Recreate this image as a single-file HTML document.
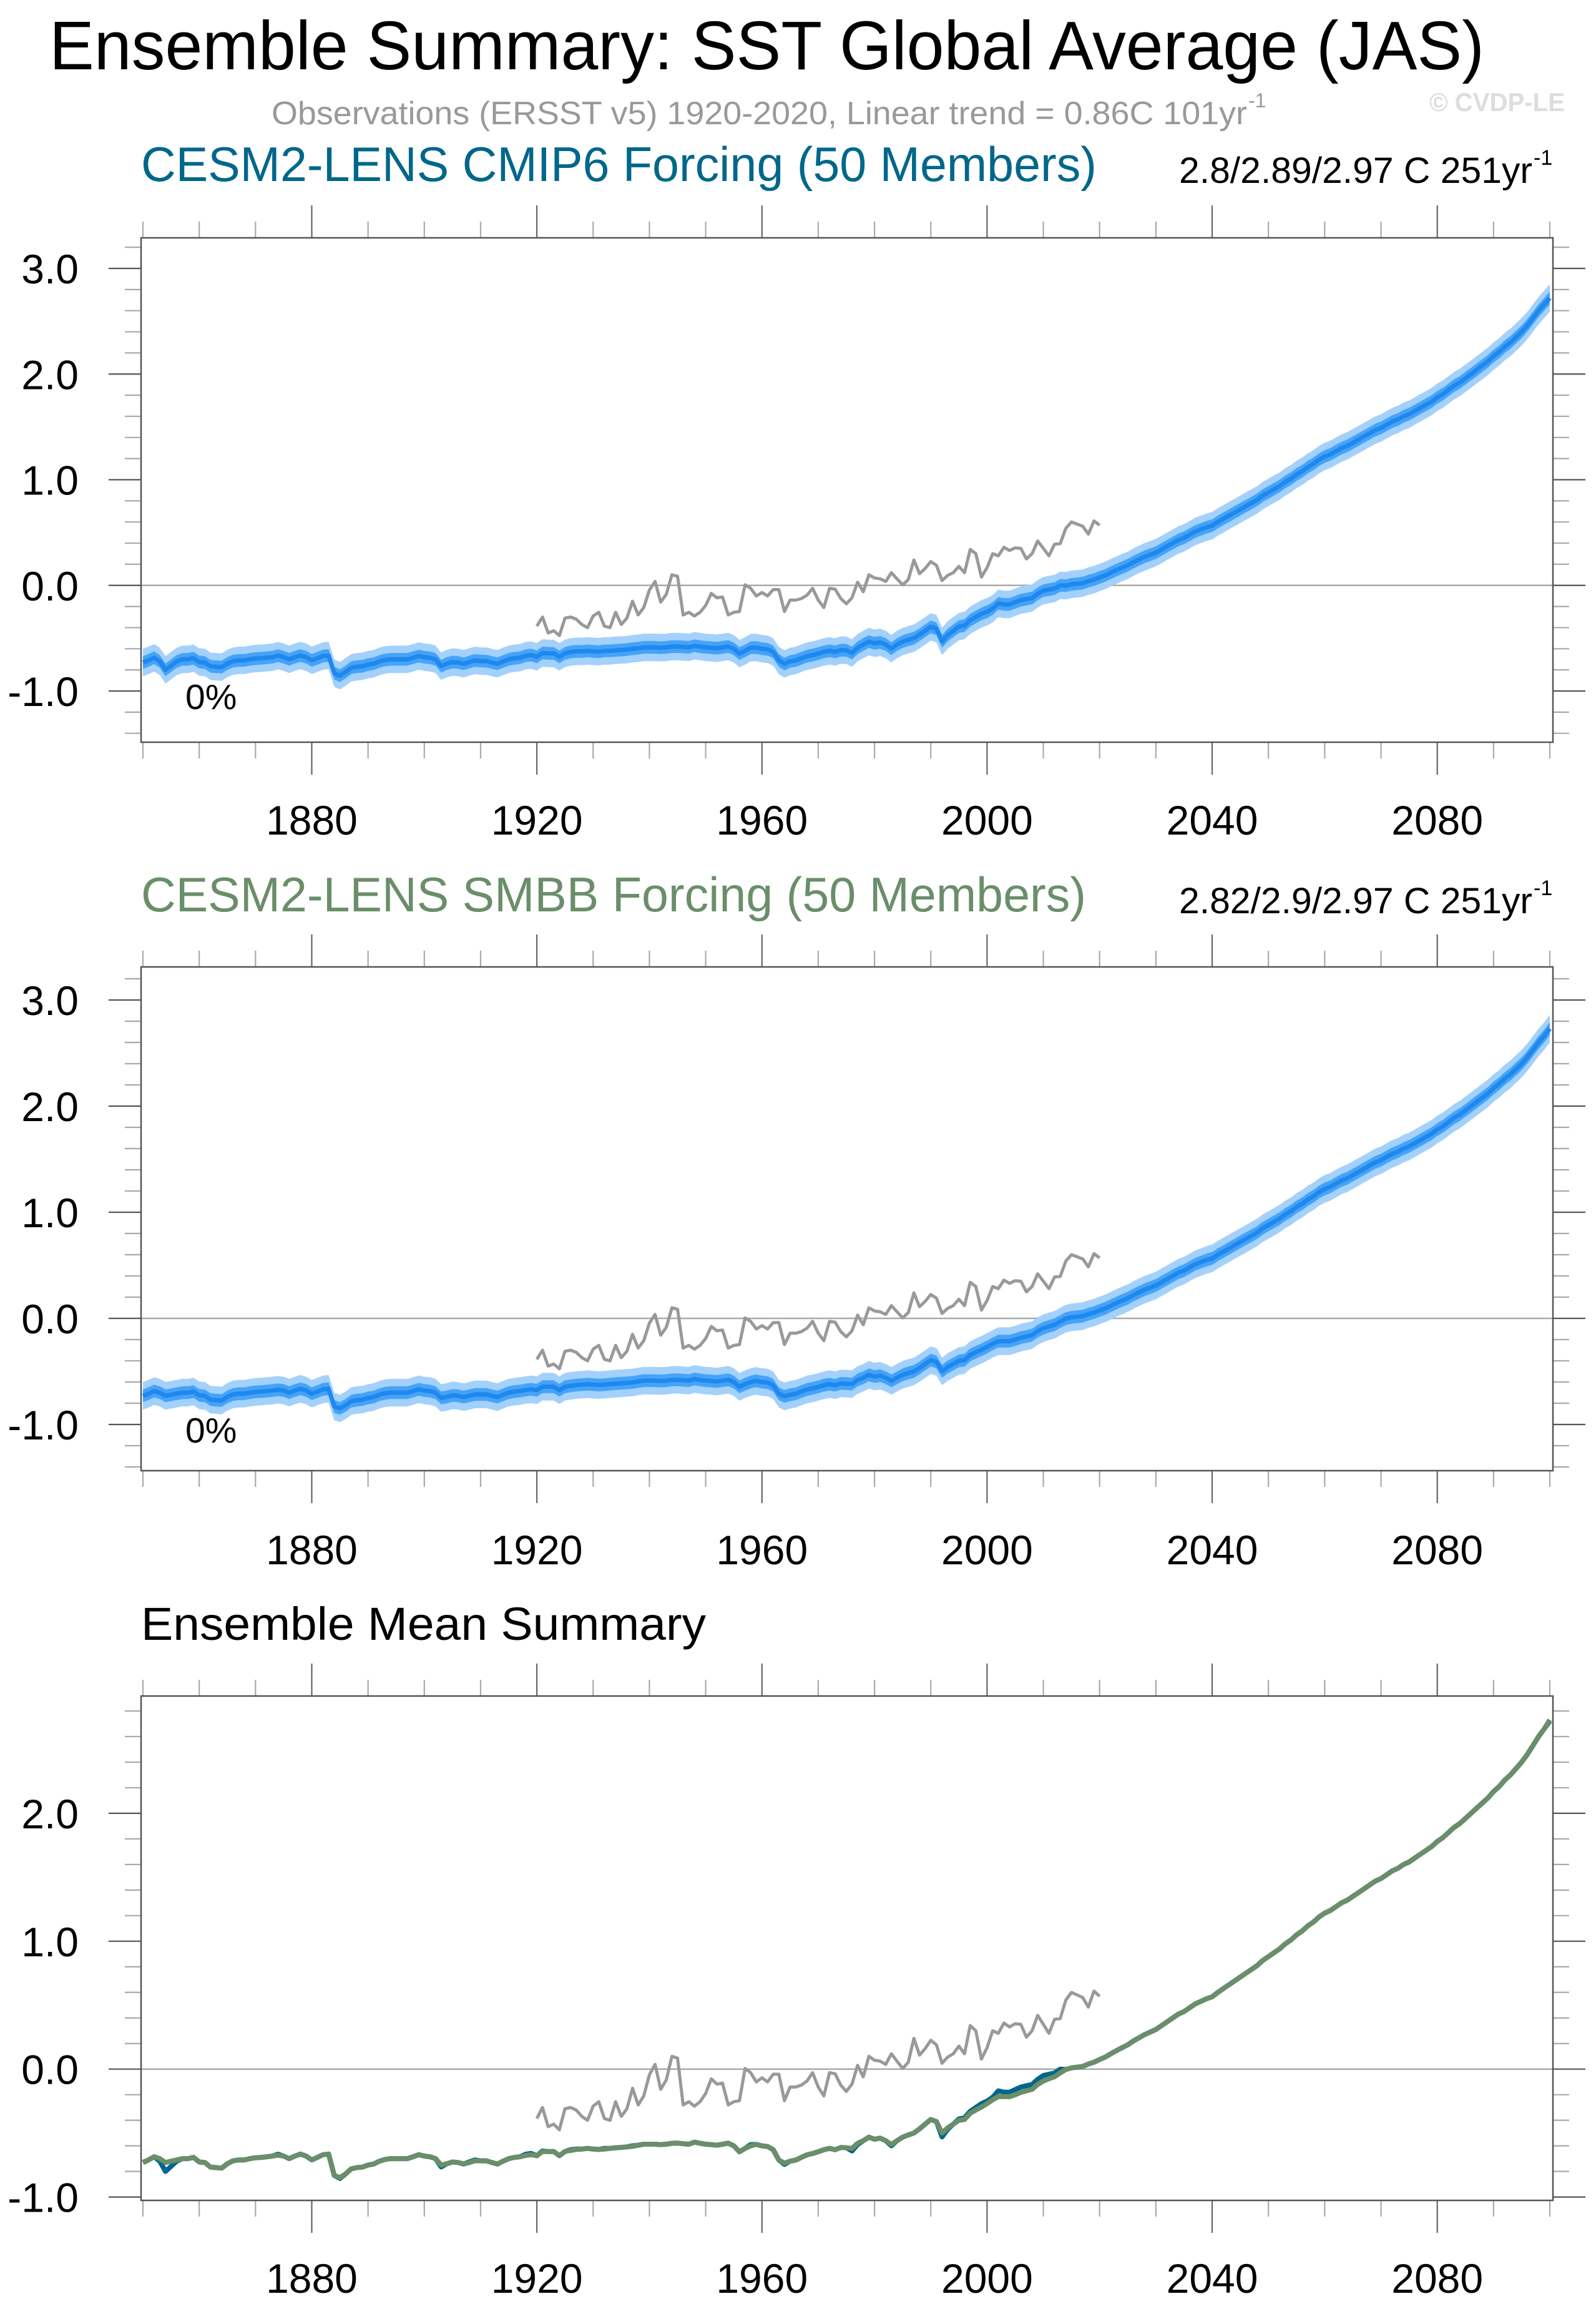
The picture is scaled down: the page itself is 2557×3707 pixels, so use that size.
<!DOCTYPE html>
<html><head><meta charset="utf-8"><style>
html,body{margin:0;padding:0;background:#fff;}
svg{display:block;font-family:"Liberation Sans",Arial,sans-serif;}
</style></head><body>
<svg id="fig" xmlns="http://www.w3.org/2000/svg" width="2557" height="3707" viewBox="0 0 2557 3707">
<rect width="2557" height="3707" fill="#fff"/>
<text x="79" y="111" font-size="110" textLength="2299" lengthAdjust="spacingAndGlyphs" fill="#000">Ensemble Summary: SST Global Average (JAS)</text>
<text x="435" y="199" font-size="52" textLength="1563" lengthAdjust="spacingAndGlyphs" fill="#999">Observations (ERSST v5) 1920-2020, Linear trend = 0.86C 101yr</text>
<text x="2000" y="172" font-size="32" fill="#999">-1</text>
<text x="2290" y="178" font-size="42" font-weight="bold" textLength="217" lengthAdjust="spacingAndGlyphs" fill="#ddd">© CVDP-LE</text>
<g id="panels"></g>
</svg>
<script>
// ---- data ----
const years0 = 1850;
const obsStartYear = 1920;
const obsValues = [-0.386,-0.30,-0.45,-0.43,-0.475,-0.31,-0.30,-0.32,-0.37,-0.40,
-0.29,-0.255,-0.386,-0.40,-0.255,-0.37,-0.31,-0.15,-0.28,-0.21,
-0.044,0.037,-0.158,-0.085,0.10,0.086,-0.28,-0.255,-0.29,-0.255,
-0.19,-0.076,-0.117,-0.11,-0.28,-0.255,-0.247,0.005,-0.028,-0.10,
-0.068,-0.10,-0.04,-0.04,-0.247,-0.14,-0.14,-0.125,-0.093,-0.028,
-0.14,-0.21,-0.028,-0.036,-0.125,-0.174,-0.117,0.03,-0.06,0.10,
0.07,0.062,0.037,0.12,0.062,0.005,0.054,0.24,0.11,0.16,
0.225,0.19,0.046,0.094,0.12,0.18,0.12,0.34,0.30,0.078,
0.168,0.30,0.28,0.36,0.33,0.355,0.35,0.25,0.30,0.42,
0.35,0.28,0.39,0.395,0.54,0.60,0.58,0.56,0.485,0.61,0.57];
const smbbMean = [-0.73,-0.71,-0.685,-0.70,-0.73,-0.72,-0.71,-0.70,-0.70,-0.69,
-0.726,-0.73,-0.766,-0.77,-0.774,-0.74,-0.717,-0.71,-0.71,-0.70,
-0.693,-0.69,-0.685,-0.68,-0.673,-0.68,-0.70,-0.68,-0.664,-0.68,
-0.71,-0.69,-0.669,-0.664,-0.831,-0.848,-0.82,-0.78,-0.77,-0.766,
-0.75,-0.742,-0.72,-0.706,-0.70,-0.70,-0.70,-0.70,-0.685,-0.669,
-0.68,-0.685,-0.70,-0.75,-0.74,-0.726,-0.73,-0.742,-0.73,-0.717,
-0.717,-0.717,-0.73,-0.742,-0.72,-0.70,-0.69,-0.685,-0.675,-0.669,
-0.677,-0.644,-0.644,-0.644,-0.677,-0.644,-0.636,-0.628,-0.625,-0.62,
-0.625,-0.628,-0.625,-0.62,-0.615,-0.612,-0.608,-0.604,-0.595,-0.587,
-0.587,-0.587,-0.59,-0.587,-0.58,-0.579,-0.583,-0.587,-0.571,-0.58,
-0.587,-0.59,-0.595,-0.587,-0.579,-0.60,-0.646,-0.62,-0.60,-0.589,
-0.60,-0.605,-0.63,-0.711,-0.735,-0.72,-0.711,-0.69,-0.67,-0.66,
-0.646,-0.63,-0.62,-0.63,-0.613,-0.615,-0.62,-0.58,-0.56,-0.532,
-0.548,-0.54,-0.56,-0.589,-0.56,-0.532,-0.515,-0.50,-0.467,-0.43,
-0.394,-0.41,-0.50,-0.459,-0.43,-0.40,-0.394,-0.345,-0.32,-0.296,
-0.27,-0.24,-0.215,-0.215,-0.215,-0.20,-0.182,-0.17,-0.158,-0.12,
-0.093,-0.075,-0.06,-0.03,-0.003,0.01,0.015,0.021,0.04,0.054,
0.075,0.094,0.12,0.145,0.168,0.19,0.22,0.245,0.27,0.29,
0.31,0.34,0.37,0.40,0.43,0.45,0.48,0.51,0.53,0.55,
0.565,0.60,0.63,0.66,0.69,0.72,0.75,0.78,0.81,0.85,
0.88,0.91,0.94,0.98,1.01,1.05,1.08,1.12,1.15,1.19,
1.22,1.24,1.27,1.30,1.32,1.35,1.38,1.41,1.44,1.47,
1.49,1.52,1.55,1.57,1.60,1.62,1.65,1.68,1.71,1.74,
1.78,1.81,1.85,1.89,1.92,1.96,2.00,2.04,2.08,2.12,
2.17,2.21,2.26,2.30,2.35,2.40,2.46,2.53,2.60,2.66,
2.73];
const cmip6Mean = [-0.73,-0.71,-0.685,-0.72,-0.80,-0.76,-0.72,-0.70,-0.70,-0.69,
-0.726,-0.73,-0.766,-0.77,-0.774,-0.74,-0.717,-0.71,-0.71,-0.70,
-0.693,-0.69,-0.685,-0.68,-0.665,-0.68,-0.70,-0.68,-0.664,-0.68,
-0.71,-0.69,-0.669,-0.664,-0.831,-0.855,-0.82,-0.78,-0.77,-0.766,
-0.75,-0.742,-0.72,-0.706,-0.70,-0.70,-0.70,-0.70,-0.685,-0.669,
-0.68,-0.685,-0.70,-0.765,-0.74,-0.726,-0.73,-0.742,-0.725,-0.71,
-0.717,-0.717,-0.73,-0.742,-0.72,-0.70,-0.69,-0.685,-0.665,-0.66,
-0.677,-0.64,-0.644,-0.644,-0.677,-0.644,-0.63,-0.625,-0.625,-0.62,
-0.625,-0.628,-0.62,-0.62,-0.615,-0.612,-0.608,-0.60,-0.595,-0.587,
-0.587,-0.587,-0.59,-0.587,-0.58,-0.579,-0.583,-0.587,-0.571,-0.58,
-0.587,-0.59,-0.595,-0.587,-0.579,-0.60,-0.646,-0.62,-0.59,-0.589,
-0.60,-0.605,-0.63,-0.711,-0.745,-0.72,-0.711,-0.69,-0.67,-0.66,
-0.646,-0.63,-0.62,-0.63,-0.613,-0.615,-0.64,-0.59,-0.56,-0.532,
-0.548,-0.54,-0.56,-0.60,-0.56,-0.532,-0.515,-0.50,-0.467,-0.43,
-0.394,-0.41,-0.53,-0.47,-0.43,-0.39,-0.38,-0.33,-0.30,-0.27,
-0.25,-0.22,-0.17,-0.18,-0.18,-0.16,-0.14,-0.13,-0.12,-0.08,
-0.05,-0.04,-0.03,0.0,-0.003,0.01,0.015,0.021,0.04,0.054,
0.075,0.094,0.12,0.145,0.168,0.19,0.22,0.245,0.27,0.29,
0.31,0.34,0.37,0.40,0.43,0.45,0.48,0.51,0.53,0.55,
0.565,0.60,0.63,0.66,0.69,0.72,0.75,0.78,0.81,0.85,
0.88,0.91,0.94,0.98,1.01,1.05,1.08,1.12,1.15,1.19,
1.22,1.24,1.27,1.30,1.32,1.35,1.38,1.41,1.44,1.47,
1.49,1.52,1.55,1.57,1.60,1.62,1.65,1.68,1.71,1.74,
1.78,1.81,1.85,1.89,1.92,1.96,2.00,2.04,2.08,2.12,
2.17,2.21,2.26,2.30,2.35,2.40,2.46,2.53,2.60,2.66,
2.72];
const innerSpread = 0.06;
const outerSpread = 0.13;
const xTickLabels = [1880,1920,1960,2000,2040,2080];
const yTickLabelsTop = ["-1.0","0.0","1.0","2.0","3.0"];
const yTickLabelsBottom = ["-1.0","0.0","1.0","2.0"];

// ---- layout ----
const NS = "http://www.w3.org/2000/svg";
const root = document.getElementById('panels');
const X0 = 229, XPY = 9.016, BOXL = 226, BOXR = 2488;
function xs(yr){ return X0 + (yr - years0) * XPY; }
function mk(tag, attrs, parent){ const e = document.createElementNS(NS, tag); for (const k in attrs) e.setAttribute(k, attrs[k]); (parent||root).appendChild(e); return e; }

function linePath(vals, startYear, ys){
  return vals.map((v,i)=> (i?'L':'M') + xs(startYear+i).toFixed(1) + ' ' + ys(v).toFixed(1)).join(' ');
}
function bandPath(vals, sp, ys){
  let d = vals.map((v,i)=> (i?'L':'M') + xs(years0+i).toFixed(1)+' '+ys(v+sp).toFixed(1)).join(' ');
  for (let i=vals.length-1;i>=0;i--) d += ' L' + xs(years0+i).toFixed(1)+' '+ys(vals[i]-sp).toFixed(1);
  return d + ' Z';
}

function panel(cfg){
  const g = mk('g', {});
  
  
  const ys = v => cfg.zero - v * cfg.ppu;
  for (let yr = 1850; yr <= 2100; yr += 10){
    const major = xTickLabels.includes(yr);
    const len = major ? 52 : 26;
    const x = xs(yr);
    const t1 = mk('line', {x1:x, x2:x, y1:cfg.top-len, y2:cfg.top, stroke: major?'#666':'#aaa', 'stroke-width':2.2}, g);
    
    
    const t2 = mk('line', {x1:x, x2:x, y1:cfg.bottom, y2:cfg.bottom+len, stroke: major?'#666':'#aaa', 'stroke-width':2.2}, g);
    
    
  }
  xTickLabels.forEach(yr => {
    const t = mk('text', {x:xs(yr), y:cfg.labelY, 'font-size':66, 'text-anchor':'middle', fill:'#000'}, g);
    t.textContent = yr;
    
    
  });
  for (let k = Math.ceil(cfg.vmin*5); k <= Math.floor(cfg.vmax*5); k++){
    const v = k/5, y = ys(v), major = (k % 5 === 0);
    const len = major ? 52 : 26;
    const a = mk('line', {x1:BOXL-len, x2:BOXL, y1:y, y2:y, stroke: major?'#555':'#aaa', 'stroke-width':2.2}, g);
    
    
    const b = mk('line', {x1:BOXR, x2:BOXR+len, y1:y, y2:y, stroke: major?'#555':'#aaa', 'stroke-width':2.2}, g);
    
    
  }
  cfg.yLabels.forEach(s => {
    const t = mk('text', {x:126, y:ys(parseFloat(s))+24, 'font-size':66, 'text-anchor':'end', fill:'#000'}, g);
    t.textContent = s;
    
    
  });
  const z = mk('line', {x1:BOXL, x2:BOXR, y1:ys(0), y2:ys(0), stroke:'#aaa', 'stroke-width':2.5}, g);
  
  
  if (cfg.band){
    const o = mk('path', {d:bandPath(cfg.band, outerSpread, ys), fill:'#a3d1fb'}, g);
    
    
    const i = mk('path', {d:bandPath(cfg.band, innerSpread, ys), fill:'#45a3f8'}, g);
    
    
    const m = mk('path', {d:linePath(cfg.band, years0, ys), fill:'none', stroke:'#1f88ee', 'stroke-width':7, 'stroke-linejoin':'round'}, g);
    
    
  }
  if (cfg.lines){
    const l1 = mk('path', {d:linePath(cmip6Mean, years0, ys), fill:'none', stroke:'#00678a', 'stroke-width':8, 'stroke-linejoin':'round'}, g);
    
    
    const l2 = mk('path', {d:linePath(smbbMean, years0, ys), fill:'none', stroke:'#6a8e6a', 'stroke-width':8, 'stroke-linejoin':'round'}, g);
    
    
  }
  const ob = mk('path', {d:linePath(obsValues, obsStartYear, ys), fill:'none', stroke:'#999', 'stroke-width':5, 'stroke-linejoin':'round'}, g);
  
  
  const box = mk('rect', {x:BOXL, y:cfg.top, width:BOXR-BOXL, height:cfg.bottom-cfg.top, fill:'none', stroke:'#555', 'stroke-width':2.5}, g);
  
  
  const tt = mk('text', {x:226, y:cfg.titleY, 'font-size':cfg.titleSize, fill:cfg.titleColor, textLength:cfg.titleLen, lengthAdjust:'spacingAndGlyphs'}, g);
  tt.textContent = cfg.title;
  
  
  if (cfg.right){
    const r = mk('text', {x:1889, y:cfg.titleY+3, 'font-size':58, fill:'#000', textLength:566, lengthAdjust:'spacingAndGlyphs'}, g);
    r.textContent = cfg.right;
    
    
    const s = mk('text', {x:2457, y:cfg.titleY-26, 'font-size':34, fill:'#000'}, g);
    s.textContent = '-1';
    
    
    const p = mk('text', {x:297, y:cfg.zero + 1.17*cfg.ppu, 'font-size':57, fill:'#000'}, g);
    p.textContent = '0%';
    
    
  }
}

panel({name:'cmip6-panel', top:381, bottom:1189, zero:937.75, ppu:169.25, vmin:-1.48, vmax:3.29, labelY:1337,
  yLabels:yTickLabelsTop, band:cmip6Mean, title:'CESM2-LENS CMIP6 Forcing (50 Members)', titleY:290, titleSize:78, titleColor:'#00678a', titleLen:1531,
  right:'2.8/2.89/2.97 C 251yr'});
panel({name:'smbb-panel', top:1549, bottom:2356, zero:2112, ppu:170, vmin:-1.43, vmax:3.32, labelY:2506,
  yLabels:yTickLabelsTop, band:smbbMean, title:'CESM2-LENS SMBB Forcing (50 Members)', titleY:1460, titleSize:78, titleColor:'#6a8e6a', titleLen:1514,
  right:'2.82/2.9/2.97 C 251yr'});
panel({name:'ensemble-mean-panel', top:2717, bottom:3525, zero:3314.7, ppu:204.9, vmin:-1.02, vmax:2.91, labelY:3673,
  yLabels:yTickLabelsBottom, lines:true, title:'Ensemble Mean Summary', titleY:2627, titleSize:74, titleColor:'#000', titleLen:905});
</script>
</body></html>
